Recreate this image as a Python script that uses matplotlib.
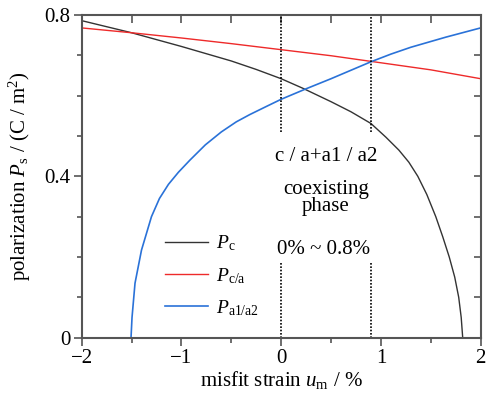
import matplotlib.pyplot as plt
import matplotlib.ticker as ticker

plt.rcParams['font.family'] = ['Liberation Serif', 'DejaVu Serif']
plt.rcParams['mathtext.fontset'] = 'custom'
plt.rcParams['mathtext.rm'] = 'Liberation Serif'
plt.rcParams['mathtext.it'] = 'Liberation Serif:italic'

# values
u_c = [-2.0, -1.5, -1.0, -0.5, -0.25, 0.0, 0.22, 0.5, 0.7, 0.9, 1.05, 1.18, 1.28, 1.37,
       1.46, 1.55, 1.62, 1.685, 1.74, 1.78, 1.805, 1.82]
p_c = [0.786, 0.756, 0.722, 0.686, 0.665, 0.642, 0.618, 0.585, 0.560, 0.531, 0.497, 0.465,
       0.435, 0.40, 0.355, 0.30, 0.25, 0.20, 0.15, 0.10, 0.05, 0.0]

u_ca = [-2.0, -1.5, -1.0, -0.5, 0.0, 0.5, 0.9, 1.5, 2.0]
p_ca = [0.768, 0.756, 0.743, 0.729, 0.714, 0.699, 0.685, 0.664, 0.642]

u_aa = [-1.505, -1.495, -1.465, -1.40, -1.30, -1.22, -1.13, -1.03, -0.915, -0.76, -0.6,
        -0.45, -0.315, -0.15, 0.0, 0.25, 0.5, 0.7, 0.9, 1.1, 1.3, 1.65, 2.0]
p_aa = [0.0, 0.05, 0.135, 0.217, 0.30, 0.345, 0.38, 0.41, 0.44, 0.478, 0.51,
        0.535, 0.553, 0.573, 0.591, 0.617, 0.642, 0.663, 0.684, 0.703, 0.72, 0.745, 0.768]

boundaries = [0.0, 0.9]
xticks = [-2, -1, 0, 1, 2]
xticklabels = ['\u22122', '\u22121', '0', '1', '2']
yticks = [0, 0.4, 0.8]
yticklabels = ['0', '0.4', '0.8']

fig = plt.figure(figsize=(4.86, 4.0), dpi=100)
ax = fig.add_axes([0.168, 0.156, 0.821, 0.8065])

ax.plot(u_c, p_c, color='#333333', lw=1.0, label=r'$P_\mathrm{c}$')
ax.plot(u_ca, p_ca, color='#ee2a2a', lw=1.0, label=r'$P_\mathrm{c/a}$')
ax.plot(u_aa, p_aa, color='#2a72d8', lw=1.2, label=r'$P_\mathrm{a1/a2}$')

# phase boundaries
for b in boundaries:
    ax.vlines(b, 0.51, 0.8, colors='black', linestyles=(0, (1, 1)), lw=1.2)
    ax.vlines(b, 0.0, 0.188, colors='black', linestyles=(0, (1, 1)), lw=1.2)

ax.text(0.45, 0.438, 'c / a+a1 / a2', ha='center', va='baseline', fontsize=15)
ax.text(0.45, 0.314, 'coexisting\nphase', ha='center', va='baseline', fontsize=15,
        linespacing=0.85, multialignment='center')
ax.text(0.43, 0.2075, '0% ~ 0.8%', ha='center', va='baseline', fontsize=15)

ax.set_xlim(-2, 2)
ax.set_ylim(0, 0.8)
ax.set_xticks(xticks)
ax.set_xticklabels(xticklabels)
ax.set_yticks(yticks)
ax.set_yticklabels(yticklabels)
ax.xaxis.set_minor_locator(ticker.MultipleLocator(0.5))
ax.yaxis.set_minor_locator(ticker.MultipleLocator(0.1))

spine_c = '#555555'
for s in ax.spines.values():
    s.set_color(spine_c)
    s.set_linewidth(1.5)
ax.tick_params(which='both', direction='out', colors=spine_c, labelcolor='black',
               labelsize=15, width=1.2, pad=2)
ax.tick_params(which='major', length=6)
ax.tick_params(which='minor', length=3.5)

# inward ticks on top and right
top = ax.secondary_xaxis('top')
top.set_xticks([-2, -1.5, -1, -0.5, 0, 0.5, 1, 1.5, 2])
top.set_xticklabels([])
top.tick_params(direction='in', length=6, width=1.2, colors=spine_c)
top.spines['top'].set_visible(False)
right = ax.secondary_yaxis('right')
right.set_yticks([0, 0.1, 0.2, 0.3, 0.4, 0.5, 0.6, 0.7, 0.8])
right.set_yticklabels([])
right.tick_params(direction='in', length=5, width=1.2, colors=spine_c)
right.spines['right'].set_visible(False)

ax.set_xlabel(r'misfit strain $u_\mathrm{m}$ / %', fontsize=15, labelpad=1)
ax.set_ylabel(r'polarization $P_\mathrm{s}$ / (C / m$^2$)', fontsize=15, labelpad=8)

ax.legend(loc='center left', bbox_to_anchor=(0.19, 0.192), frameon=False, fontsize=14,
          handlelength=2.2, labelspacing=0.65, handletextpad=0.4, borderaxespad=0)

fig.savefig('out.png', dpi=100)
